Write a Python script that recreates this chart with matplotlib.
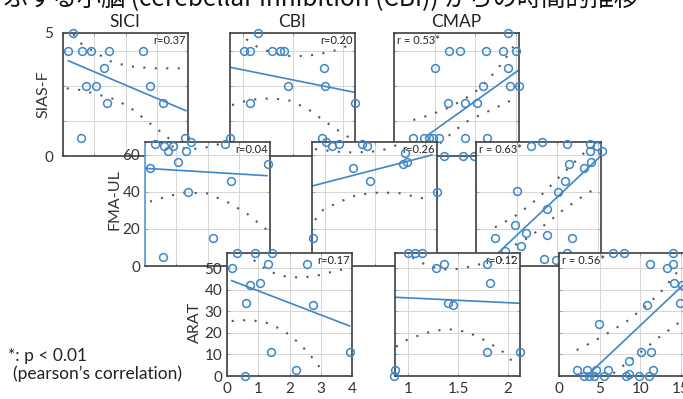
import matplotlib
matplotlib.use("Agg")
import matplotlib.pyplot as plt

plt.rcParams['font.family'] = ['Lato', 'DejaVu Sans']

W, H = 683, 399

# axis limits (columns share x, rows share y)
sici_xlim = (0, 4)
cbi_xlim = (0.87, 2.12)
cmap_xlim = (0, 15.4)
sias_ylim = (0, 7)
fma_ylim = (0, 67)
arat_ylim = (0, 57)

sici_xticks = [0, 1, 2, 3, 4]
cbi_xticks = [1, 1.5, 2]
cmap_xticks = [0, 5, 10, 15]
sici_xlabels = ['0', '1', '2', '3', '4']
cbi_xlabels = ['1', '1.5', '2']
cmap_xlabels = ['0', '5', '10', '15']
sias_yticks = [0, 2, 4, 6, 7]
sias_ylabels = ['0', '', '', '', '5']
fma_yticks = [0, 20, 40, 60]
fma_ylabels = ['0', '20', '40', '60']
arat_yticks = [0, 10, 20, 30, 40, 50]
arat_ylabels = ['0', '10', '20', '30', '40', '50']

col_titles = ['SICI', 'CBI', 'CMAP']
row_labels = ['SIAS-F', 'FMA-UL', 'ARAT']

# ---- SIAS-F row
sici_sias_x = [0.31, 0.15, 0.60, 0.89, 1.46, 2.57, 1.31, 0.74, 1.06, 2.78, 1.40, 3.21, 0.58, 3.90]
sici_sias_y = [7, 6, 6, 6, 6, 6, 5, 4, 4, 4, 3, 3, 1, 1]
sici_sias_fit = [0.17, 5.42, 3.93, 2.58]
sici_sias_up_x = [0.33, 0.60, 1.08, 1.61, 2.25, 2.89, 3.90]
sici_sias_up_y = [6.94, 6.37, 5.84, 5.31, 5.08, 4.99, 4.99]
sici_sias_lo_x = [0.12, 0.54, 1.18, 1.72, 2.25, 2.78, 3.32, 3.90]
sici_sias_lo_y = [3.85, 3.76, 3.47, 3.19, 2.62, 1.86, 1.10, 0.25]

cbi_sias_x = [1.15, 1.01, 1.07, 1.29, 1.37, 1.41, 1.81, 1.45, 1.82, 2.12, 1.07, 0.87, 1.79]
cbi_sias_y = [7, 6, 6, 6, 6, 6, 5, 4, 4, 3, 3, 1, 1]
cbi_sias_fit = [0.87, 5.05, 2.12, 3.62]
cbi_sias_up_x = [0.95, 1.02, 1.14, 1.30, 1.47, 1.64, 1.80, 1.97, 2.09]
cbi_sias_up_y = [7.1, 6.70, 6.22, 5.85, 5.69, 5.69, 5.85, 6.07, 6.41]
cbi_sias_lo_x = [0.89, 1.00, 1.14, 1.30, 1.47, 1.64, 1.80, 1.97, 2.10]
cbi_sias_lo_y = [2.90, 3.09, 3.24, 3.28, 3.15, 2.71, 2.05, 1.38, 0.91]

cmap_sias_x = [14.1, 6.8, 8.1, 11.3, 13.4, 15.0, 5.05, 14.1, 11.0, 14.3, 15.4, 6.7, 8.7, 10.2,
               2.4, 3.7, 4.35, 4.84, 5.6, 8.7, 11.5, 6.1, 8.5, 9.9]
cmap_sias_y = [7, 6, 6, 6, 6, 6, 5, 5, 4, 4, 4, 3, 3, 3, 1, 1, 1, 1, 1, 1, 1, 0, 0, 0]
cmap_sias_fit = [4.2, 1.2, 15.4, 4.9]
cmap_sias_up_x = [2.38, 4.43, 6.49, 8.53, 10.59, 12.65, 13.88, 14.69]
cmap_sias_up_y = [2.05, 2.33, 2.71, 3.19, 3.85, 4.89, 5.65, 6.22]
cmap_sias_lo_x = [5.67, 7.3, 8.95, 10.6, 12.65, 14.7]
cmap_sias_lo_y = [0.72, 1.38, 1.95, 2.33, 2.77, 3.23]

# ---- FMA-UL row
sici_fma_x = [0.32, 0.61, 0.73, 0.89, 0.16, 1.05, 1.46, 1.31, 1.39, 0.59, 2.19, 2.56, 2.75, 3.93]
sici_fma_y = [66, 65, 62, 65, 53, 56, 67, 62, 40, 5, 15, 66, 46, 55]
sici_fma_fit = [0.0, 52.8, 3.9, 48.8]
sici_fma_up_x = [0.5, 0.9, 1.4, 1.8, 2.2, 2.6]
sici_fma_up_y = [66.5, 64.5, 63.2, 63.5, 65.0, 67.0]
sici_fma_lo_x = [0.16, 0.69, 1.23, 1.97, 2.61, 3.25, 3.90]
sici_fma_lo_y = [34.8, 37.5, 39.6, 39.3, 34.8, 28.5, 19.5]

cbi_fma_x = [1.01, 1.07, 1.14, 1.37, 1.42, 1.28, 1.45, 1.78, 1.82, 2.12, 0.88, 1.80]
cbi_fma_y = [67, 65, 66, 66, 65, 53, 46, 55, 56, 40, 15, 61]
cbi_fma_fit = [0.87, 43.2, 2.07, 60.0]
cbi_fma_up_x = [0.90, 1.03, 1.16, 1.30, 1.47, 1.60, 1.75]
cbi_fma_up_y = [63.2, 62.3, 61.6, 61.3, 61.8, 63.0, 66.0]
cbi_fma_lo_x = [0.90, 0.98, 1.15, 1.32, 1.55, 1.75, 2.05]
cbi_fma_lo_y = [24.9, 30.3, 34.8, 38.4, 39.8, 39.3, 35.7]

cmap_fma_x = [6.8, 8.1, 11.2, 14.0, 14.9, 14.0, 15.5, 11.5, 14.2, 13.3, 11.0, 10.1, 5.1, 8.7,
              4.8, 6.1, 8.7, 11.8, 2.3, 5.5, 3.6, 8.4, 9.85, 11.2]
cmap_fma_y = [65, 67, 66, 66, 65, 62, 62, 55, 56, 53, 46, 40, 40.5, 31,
              22, 18, 17, 15, 15, 11, 8, 4, 3, 7]
cmap_fma_fit = [2.75, 7.2, 15.5, 60.0]
cmap_fma_up_x = [2.34, 4.6, 6.65, 8.5, 10.3, 12.0, 13.6, 14.9]
cmap_fma_up_y = [20.9, 26.3, 33.0, 40.2, 48.3, 55.5, 62.3, 65.4]
cmap_fma_lo_x = [4.8, 6.65, 8.7, 10.75, 12.8, 14.9]
cmap_fma_lo_y = [11.4, 15.8, 23.1, 30.3, 36.6, 42.5]

# ---- ARAT row
sici_arat_x = [0.33, 0.89, 1.44, 0.15, 1.31, 2.56, 0.73, 1.05, 0.60, 2.76, 1.40, 2.20, 0.57, 3.92]
sici_arat_y = [57, 57, 57, 50, 52, 52, 42, 43, 34, 33, 11, 3, 0, 11]
sici_arat_fit = [0.15, 44.2, 3.92, 23.2]
sici_arat_up_x = [0.60, 0.79, 1.05, 1.37, 1.90, 2.43, 2.96, 3.49, 3.92]
sici_arat_up_y = [57.5, 54.5, 51.4, 48.3, 46.0, 45.6, 46.8, 48.8, 49.9]
sici_arat_lo_x = [0.15, 0.73, 1.26, 1.79, 2.32, 2.75, 3.07]
sici_arat_lo_y = [25.5, 26.0, 24.7, 21.3, 15.1, 8.2, 2.0]

cbi_arat_x = [1.00, 1.07, 1.14, 1.36, 1.28, 1.40, 0.87, 0.86, 1.82, 1.45, 1.79, 2.12, 1.79]
cbi_arat_y = [57, 57, 57, 52, 50, 34, 3, 0, 43, 33, 11, 11, 52]
cbi_arat_fit = [0.87, 36.5, 2.12, 33.7]
cbi_arat_up_x = [0.95, 1.03, 1.15, 1.29, 1.42, 1.59, 1.76, 2.00, 2.10]
cbi_arat_up_y = [58.0, 55.3, 52.2, 49.9, 49.1, 50.4, 52.2, 54.5, 56.0]
cbi_arat_lo_x = [0.88, 0.99, 1.12, 1.26, 1.42, 1.59, 1.76, 1.93, 2.10]
cbi_arat_lo_y = [13.6, 16.7, 19.0, 21.0, 21.6, 20.5, 16.7, 12.0, 4.3]

cmap_arat_x = [6.7, 8.0, 14.0, 11.2, 14.0, 13.3, 14.2, 15.2, 10.9, 14.9, 4.96, 10.1, 11.3, 8.6,
               2.2, 3.5, 4.6, 6.0, 11.6, 8.6, 3.1, 3.7, 4.3, 5.5, 8.3, 9.8, 11.1]
cmap_arat_y = [57, 57, 57, 52, 52, 50, 43, 42, 33, 34, 24, 11, 11, 7,
               3, 3, 3, 3, 3, 1, 0, 0, 0, 0, 0, 0, 0]
cmap_arat_fit = [4.2, 2.8, 15.2, 41.8]
cmap_arat_up_x = [2.18, 4.2, 6.3, 8.3, 10.4, 12.4, 14.1, 15.2]
cmap_arat_up_y = [12.0, 15.9, 20.5, 25.2, 31.4, 38.3, 46.0, 51.0]
cmap_arat_lo_x = [6.7, 8.3, 10.4, 12.4, 14.1, 15.2]
cmap_arat_lo_y = [1.2, 5.9, 12.0, 18.2, 22.8, 26.0]

r_texts = [['r=0.37', 'r=0.20', 'r = 0.53*'],
           ['r=0.04', 'r=0.26', 'r = 0.63*'],
           ['r=0.17', 'r=0.12', 'r = 0.56*']]

# panel boxes in pixels: left, top, width, height
row_tops = [33, 142, 253]
row_heights = [123, 124, 123]
row_lefts = [[63, 230, 394], [145, 312, 476], [227, 395, 559]]
panel_w = 125

blue = '#3f86c6'
frame = '#404040'
gridc = '#d6d6d6'
dotc = '#555555'

panels = [
    [(sici_sias_x, sici_sias_y, sici_sias_fit, sici_sias_up_x, sici_sias_up_y, sici_sias_lo_x, sici_sias_lo_y),
     (cbi_sias_x, cbi_sias_y, cbi_sias_fit, cbi_sias_up_x, cbi_sias_up_y, cbi_sias_lo_x, cbi_sias_lo_y),
     (cmap_sias_x, cmap_sias_y, cmap_sias_fit, cmap_sias_up_x, cmap_sias_up_y, cmap_sias_lo_x, cmap_sias_lo_y)],
    [(sici_fma_x, sici_fma_y, sici_fma_fit, sici_fma_up_x, sici_fma_up_y, sici_fma_lo_x, sici_fma_lo_y),
     (cbi_fma_x, cbi_fma_y, cbi_fma_fit, cbi_fma_up_x, cbi_fma_up_y, cbi_fma_lo_x, cbi_fma_lo_y),
     (cmap_fma_x, cmap_fma_y, cmap_fma_fit, cmap_fma_up_x, cmap_fma_up_y, cmap_fma_lo_x, cmap_fma_lo_y)],
    [(sici_arat_x, sici_arat_y, sici_arat_fit, sici_arat_up_x, sici_arat_up_y, sici_arat_lo_x, sici_arat_lo_y),
     (cbi_arat_x, cbi_arat_y, cbi_arat_fit, cbi_arat_up_x, cbi_arat_up_y, cbi_arat_lo_x, cbi_arat_lo_y),
     (cmap_arat_x, cmap_arat_y, cmap_arat_fit, cmap_arat_up_x, cmap_arat_up_y, cmap_arat_lo_x, cmap_arat_lo_y)],
]

xlims = [sici_xlim, cbi_xlim, cmap_xlim]
ylims = [sias_ylim, fma_ylim, arat_ylim]
xticks = [sici_xticks, cbi_xticks, cmap_xticks]
xlabels = [sici_xlabels, cbi_xlabels, cmap_xlabels]
yticks = [sias_yticks, fma_yticks, arat_yticks]
ylabels = [sias_ylabels, fma_ylabels, arat_ylabels]

fig = plt.figure(figsize=(W / 100, H / 100), dpi=100)

for r in range(3):
    for c in range(3):
        left = row_lefts[r][c]
        top = row_tops[r]
        h = row_heights[r]
        ax = fig.add_axes([left / W, 1 - (top + h) / H, panel_w / W, h / H])
        ax.set_facecolor('white')
        px, py, fit, ux, uy, lx, ly = panels[r][c]

        # dotted confidence curves
        ax.plot(ux, uy, color=dotc, lw=1.5, ls=(0, (1, 4.5)), dash_capstyle='butt')
        ax.plot(lx, ly, color=dotc, lw=1.5, ls=(0, (1, 4.5)), dash_capstyle='butt')
        ax.plot([fit[0], fit[2]], [fit[1], fit[3]], color=blue, lw=1.2)
        ax.plot(px, py, 'o', mfc='none', mec=blue, ms=5.6, mew=1.1, clip_on=False, zorder=5)

        ax.set_xlim(xlims[c])
        ax.set_ylim(ylims[r])
        ax.set_xticks(xticks[c])
        ax.set_yticks(yticks[r])
        if r == 2:
            ax.set_xticklabels(xlabels[c], fontsize=11, color='#333333')
        else:
            ax.set_xticklabels([])
        if c == 0:
            ax.set_yticklabels(ylabels[r], fontsize=11, color='#333333')
        else:
            ax.set_yticklabels([])
        ax.tick_params(direction='in', length=2, width=0.8, color='#7fb0dc',
                       top=True, right=True, pad=7 if (r == 0) else 3.5)
        ax.tick_params(axis='x', pad=4)
        ax.grid(True, color=gridc, lw=0.7)
        ax.set_axisbelow(True)
        for s in ax.spines.values():
            s.set_color(frame)
            s.set_linewidth(1.2)
        if r == 1 and c == 0:
            ax.spines['left'].set_color('#5b9bd5')

        if c == 2:
            ax.text(3 / panel_w, 1 - 2 / h, r_texts[r][c], transform=ax.transAxes,
                    ha='left', va='top', fontsize=8, color='#222222')
        else:
            ax.text(1 - 2 / panel_w, 1 - 2 / h, r_texts[r][c], transform=ax.transAxes,
                    ha='right', va='top', fontsize=8, color='#222222')

# row labels
label_x = [43, 115, 195]
label_y = [94, 200, 322]
for r in range(3):
    fig.text(label_x[r] / W, 1 - label_y[r] / H, row_labels[r], rotation=90,
             ha='center', va='center', fontsize=11.5, color='#333333')

# column titles
title_x = [125, 292, 456]
for c in range(3):
    fig.text(title_x[c] / W, 1 - 27 / H, col_titles[c], ha='center', va='baseline',
             fontsize=12.5, color='#222222')

# caption line cut off at the very top of the picture
fig.text(4 / W, 1 - 6 / H, 'ぶする小脳 (cerebellar inhibition (CBI)) からの時間的推移',
         ha='left', va='baseline', fontsize=17.5, color='#111111',
         family=['Noto Sans CJK JP', 'DejaVu Sans'])

fig.text(8 / W, 1 - 361 / H, '*: p < 0.01', ha='left', va='baseline', fontsize=12.5, color='#222222')
fig.text(13 / W, 1 - 379 / H, '(pearson\u2019s correlation)', ha='left', va='baseline',
         fontsize=12.5, color='#222222')

fig.savefig('out.png', dpi=100)
